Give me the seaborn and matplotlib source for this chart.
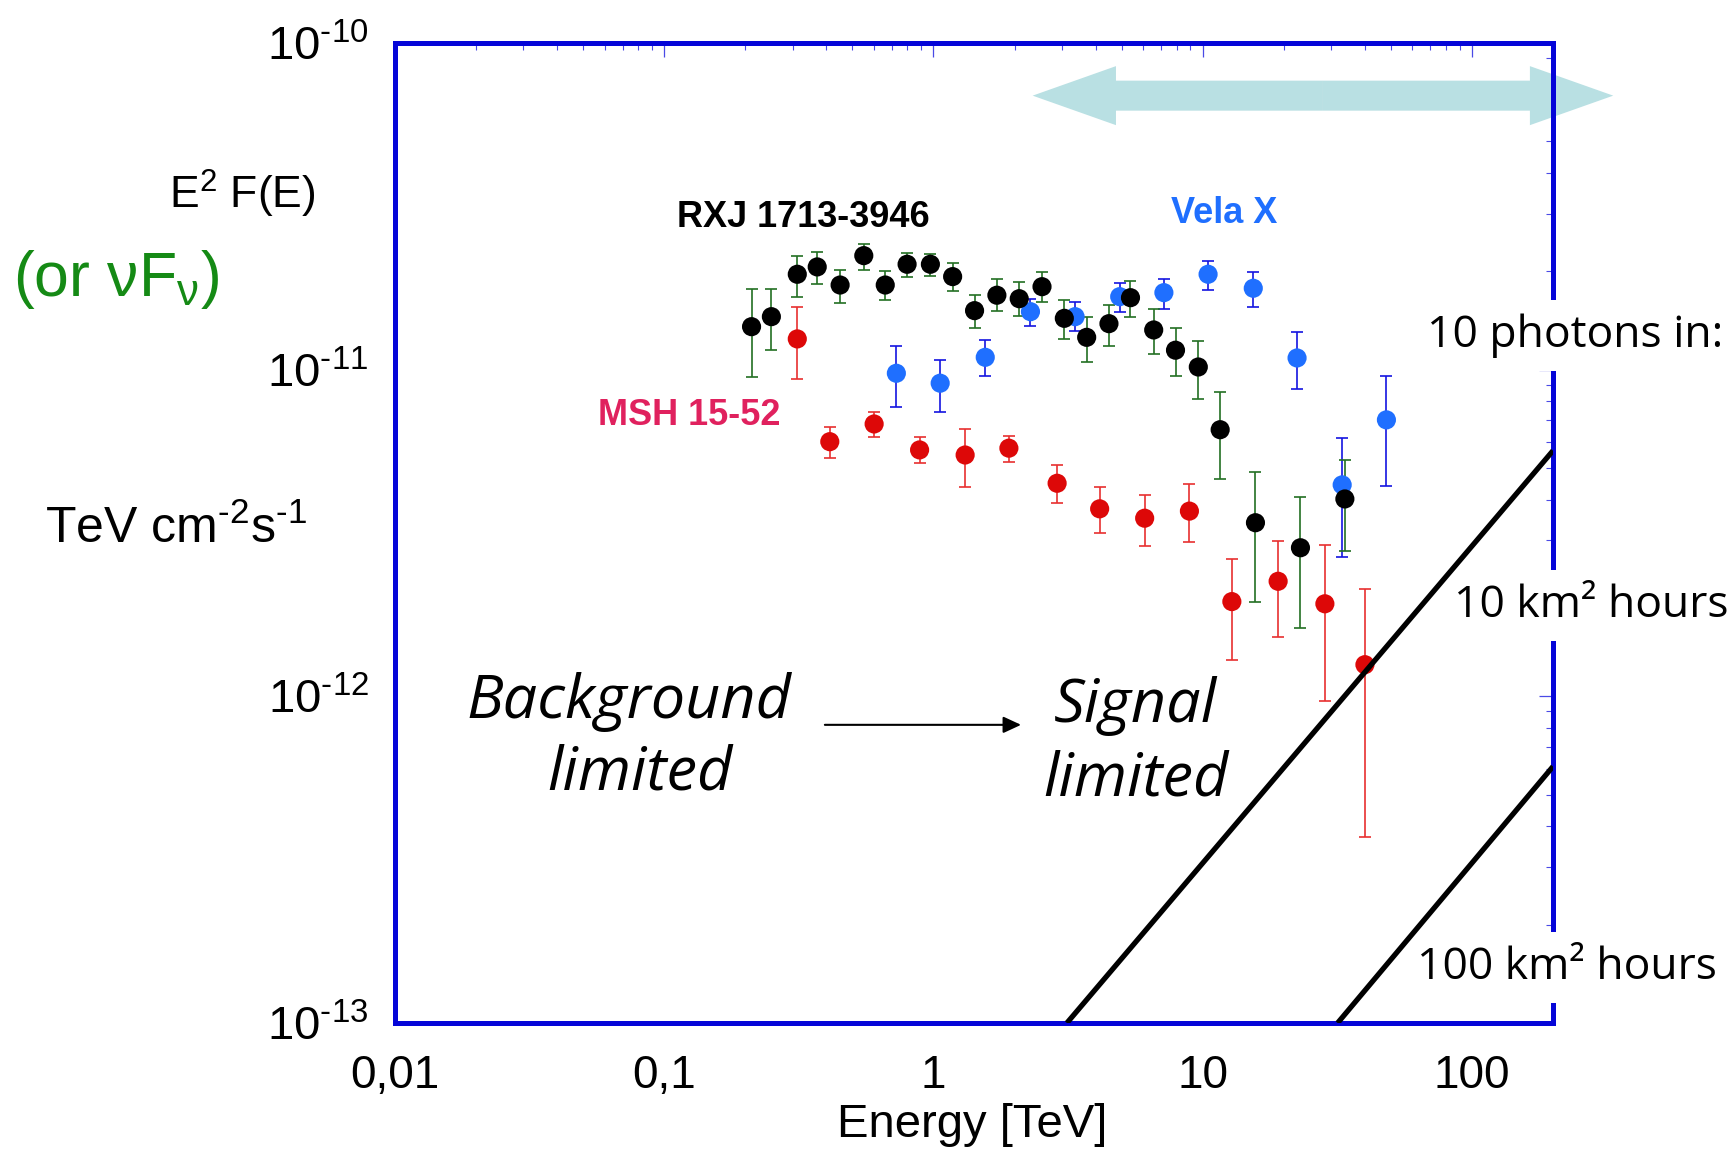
import numpy as np
import pandas as pd
import matplotlib
matplotlib.use("Agg")
import matplotlib.pyplot as plt
from matplotlib.ticker import LogLocator, NullFormatter, FixedLocator, FixedFormatter
import seaborn as sns

# ---------------- data (E in TeV, E^2 F(E) in TeV cm^-2 s^-1) ----------------
rxj_energy = [0.211, 0.250, 0.312, 0.370, 0.450, 0.551, 0.662, 0.798, 0.974, 1.178,
              1.421, 1.720, 2.082, 2.530, 3.062, 3.707, 4.485, 5.392, 6.576, 7.924,
              9.63, 11.61, 15.70, 23.07, 33.73]
rxj_flux = [1.354, 1.453, 1.959, 2.063, 1.816, 2.234, 1.816, 2.102, 2.102, 1.927,
            1.516, 1.690, 1.649, 1.795, 1.436, 1.256, 1.383, 1.661, 1.323, 1.147,
            1.019, 0.655, 0.340, 0.285, 0.402]
rxj_hi = [1.762, 1.770, 2.228, 2.297, 2.024, 2.426, 2.001, 2.281, 2.265, 2.117,
          1.697, 1.899, 1.860, 1.995, 1.631, 1.453, 1.581, 1.868, 1.531, 1.345,
          1.227, 0.856, 0.486, 0.407, 0.528]
rxj_lo = [0.952, 1.149, 1.673, 1.825, 1.604, 2.015, 1.631, 1.927, 1.932, 1.741,
          1.341, 1.509, 1.460, 1.611, 1.242, 1.056, 1.182, 1.453, 1.119, 0.957,
          0.815, 0.462, 0.194, 0.162, 0.278]

vela_energy = [0.728, 1.059, 1.557, 2.292, 3.357, 4.917, 7.175, 10.47, 15.41, 22.41, 32.96, 48.12]
vela_flux = [0.975, 0.909, 1.091, 1.505, 1.453, 1.673, 1.721, 1.959, 1.775, 1.086, 0.444, 0.702]
vela_hi = [1.184, 1.071, 1.230, 1.643, 1.608, 1.839, 1.899, 2.156, 1.995, 1.302, 0.619, 0.957]
vela_lo = [0.769, 0.744, 0.955, 1.361, 1.314, 1.499, 1.531, 1.754, 1.552, 0.871, 0.267, 0.440]

msh_energy = [0.312, 0.412, 0.602, 0.888, 1.311, 1.906, 2.879, 4.142, 6.087, 8.925,
              12.83, 19.06, 28.43, 40.04]
msh_flux = [1.242, 0.602, 0.682, 0.568, 0.548, 0.575, 0.449, 0.375, 0.351, 0.369,
            0.195, 0.225, 0.192, 0.125]
msh_hi = [1.552, 0.669, 0.741, 0.621, 0.660, 0.628, 0.511, 0.437, 0.414, 0.446,
          0.263, 0.299, 0.291, 0.213]
msh_lo = [0.937, 0.538, 0.624, 0.517, 0.437, 0.521, 0.392, 0.317, 0.288, 0.296,
          0.129, 0.152, 0.097, 0.037]

flux_unit = 1e-11

# sensitivity lines: 10 photons in 10 km^2 h and 100 km^2 h
line_energy_10 = [3.13, 200.0]
line_flux_10 = [1e-13, 5.65e-12]
line_energy_100 = [31.7, 200.0]
line_flux_100 = [1e-13, 6.1e-13]

HY = "\u2010"  # short hyphen used as superscript minus
x_ticks = [0.01, 0.1, 1, 10, 100]
x_tick_labels = ["0,01", "0,1", "1", "10", "100"]
y_ticks = [1e-13, 1e-12, 1e-11, 1e-10]
y_tick_labels = [r"$\mathregular{10^{%s13}}$" % HY, r"$\mathregular{10^{%s12}}$" % HY,
                 r"$\mathregular{10^{%s11}}$" % HY, r"$\mathregular{10^{%s10}}$" % HY]

# ---------------- style ----------------
sns.set_theme(style="white")
plt.rcParams["font.family"] = ["Liberation Sans", "DejaVu Sans"]
plt.rcParams["mathtext.fontset"] = "custom"
plt.rcParams["mathtext.rm"] = "Liberation Sans"
plt.rcParams["mathtext.it"] = "Liberation Sans:italic"
plt.rcParams["mathtext.bf"] = "Liberation Sans:bold"
plt.rcParams["text.color"] = "black"
plt.rcParams["xtick.labelcolor"] = "black"
plt.rcParams["ytick.labelcolor"] = "black"

W, H = 1732, 1152
fig = plt.figure(figsize=(W / 100, H / 100), dpi=100)
fig.patch.set_facecolor("white")
L, R, T, B = 395, 1553, 43, 1023
ax = fig.add_axes([L / W, 1 - B / H, (R - L) / W, (B - T) / H])
ax.set_xscale("log")
ax.set_yscale("log")
ax.set_xlim(0.01, 200)
ax.set_ylim(1e-13, 1e-10)

sources = [
    ("Vela X", vela_energy, vela_flux, vela_lo, vela_hi, "#1f6fff", "#1414e0"),
    ("MSH 15-52", msh_energy, msh_flux, msh_lo, msh_hi, "#dd0808", "#e83030"),
    ("RXJ 1713-3946", rxj_energy, rxj_flux, rxj_lo, rxj_hi, "#000000", "#236f23"),
]

frames = []
for name, e, f, lo, hi, mc, ec in sources:
    frames.append(pd.DataFrame({
        "energy": e,
        "flux": np.array(f) * flux_unit,
        "lo": np.array(lo) * flux_unit,
        "hi": np.array(hi) * flux_unit,
        "source": name,
    }))
df = pd.concat(frames, ignore_index=True)

for name, e, f, lo, hi, mc, ec in sources:
    sub = df[df["source"] == name]
    ax.errorbar(sub["energy"], sub["flux"],
                yerr=[sub["flux"] - sub["lo"], sub["hi"] - sub["flux"]],
                fmt="none", ecolor=ec, elinewidth=1.2, capsize=4, capthick=1.2, zorder=2)

palette = {name: mc for name, e, f, lo, hi, mc, ec in sources}
sns.scatterplot(data=df, x="energy", y="flux", hue="source", palette=palette,
                s=190, edgecolor="none", linewidth=0, legend=False, ax=ax, zorder=3)

ax.plot(line_energy_10, line_flux_10, color="black", lw=3.8, zorder=6, solid_capstyle="butt")
ax.plot(line_energy_100, line_flux_100, color="black", lw=3.8, zorder=6, solid_capstyle="butt")

# cyan double arrow (energy range)
arrow_e = [2.335, 334.8]
arrow_f = 6.9e-11
mid = np.sqrt(arrow_e[0] * arrow_e[1])
for end in arrow_e:
    ax.annotate("", xy=(end, arrow_f), xytext=(mid, arrow_f), annotation_clip=False,
                arrowprops=dict(arrowstyle="simple,head_length=60,head_width=42.5,tail_width=21.6",
                                mutation_scale=1, fc="#b9e0e3", ec="none", lw=0,
                                shrinkA=0, shrinkB=0), zorder=1)

# background -> signal arrow
ax.annotate("", xy=(2.115, 8.18e-13), xytext=(0.395, 8.18e-13),
            arrowprops=dict(arrowstyle="-|>,head_length=10.8,head_width=5",
                            mutation_scale=1, color="black", lw=1.5,
                            shrinkA=0, shrinkB=0), zorder=4)

# axes styling
for s in ax.spines.values():
    s.set_color("#0505d8")
    s.set_linewidth(3.6)
    s.set_zorder(2.5)
ax.grid(False)
ax.xaxis.set_major_locator(FixedLocator(x_ticks))
ax.xaxis.set_major_formatter(FixedFormatter(x_tick_labels))
ax.yaxis.set_major_locator(FixedLocator(y_ticks))
ax.yaxis.set_major_formatter(FixedFormatter(y_tick_labels))
for axis in (ax.xaxis, ax.yaxis):
    axis.set_minor_locator(LogLocator(base=10, subs=np.arange(2, 10), numticks=30))
    axis.set_minor_formatter(NullFormatter())
ax.tick_params(which="both", direction="in", top=True, right=True,
               color="#4a4ae6", labelcolor="black")
ax.tick_params(which="major", length=10, width=0.9)
ax.tick_params(which="minor", length=5, width=0.8)
ax.tick_params(axis="x", which="major", labelsize=33, pad=22)
ax.tick_params(axis="y", which="major", labelsize=34, pad=19)
ax.set_xlabel("")
ax.set_ylabel("")


def ftext(x, y, s, **kw):
    return fig.text(x / W, 1 - y / H, s, **kw)


ftext(972, 1137, "Energy [TeV]", ha="center", va="baseline", fontsize=34)
ftext(242, 209, r"E$^{2}$ F(E)", ha="center", va="baseline", fontsize=32)
ftext(116, 296, r"(or ν$\mathregular{F_{ν}}$)", ha="center", va="baseline", fontsize=45, color="#158a15")
ftext(176, 543, r"TeV cm$^{\mathregular{%s2}}$s$^{\mathregular{%s1}}$" % (HY, HY),
      ha="center", va="baseline", fontsize=36)

lab = dict(ha="center", va="baseline", fontsize=26, fontweight="bold")
ftext(803, 227, "RXJ 1713-3946", color="black", **lab)
ftext(1224, 223, "Vela X", color="#1f6fff", **lab)
ftext(689, 425, "MSH 15-52", color="#e0215e", **lab)

ital = dict(ha="center", va="baseline", fontsize=44, family=["Open Sans", "DejaVu Sans"], style="italic")
ftext(629, 718, "Background", **ital)
ftext(640, 790, "limited", **ital)
ftext(1135, 722, "Signal", **ital)
ftext(1136, 795, "limited", **ital)

# side labels: drawn as axes artists (below the sensitivity lines, above the spine)
box = dict(boxstyle="square,pad=0.3", fc="white", ec="none")
side = dict(ha="center", va="baseline", fontsize=32, family=["Open Sans", "DejaVu Sans"],
            bbox=box, transform=fig.transFigure, clip_on=False, zorder=4)
ax.text(1575 / W, 1 - 347 / H, "10 photons in:", **side)
ax.text(1591 / W, 1 - 617 / H, "10 km² hours", **side)
ax.text(1567 / W, 1 - 979 / H, "100 km² hours", **side)

fig.savefig("out.png", dpi=100, facecolor="white")
